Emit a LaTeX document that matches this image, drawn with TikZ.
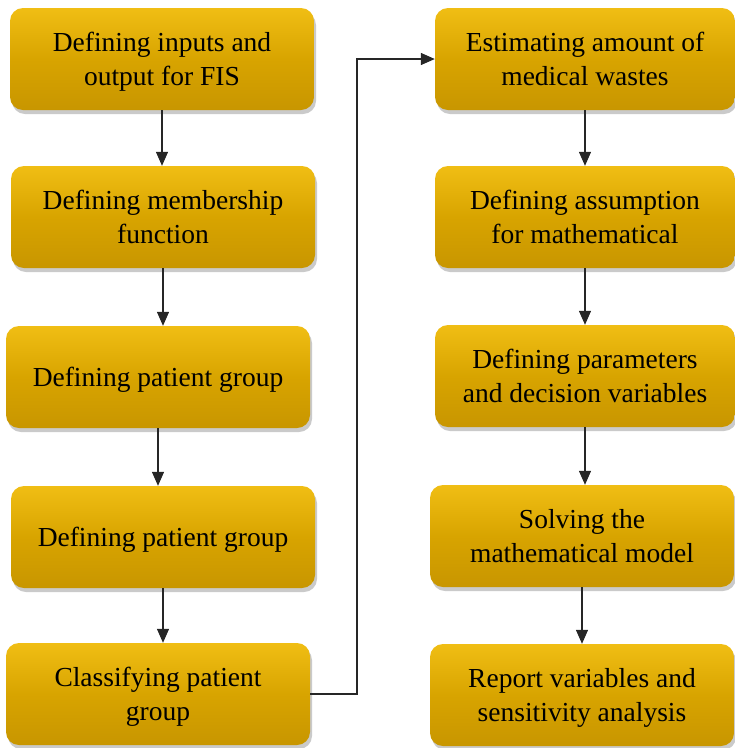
\documentclass[tikz,border=0pt]{standalone}
\usepackage{fontspec}
\setmainfont{Liberation Serif}
\usetikzlibrary{arrows.meta,
  calc,
  shadows,
  positioning
}

\begin{document}
\begin{tikzpicture}[x=1pt,y=-1pt,
    goldbox/.style={rounded corners=13pt,minimum width=304pt,minimum height=102pt,
      align=center,inner sep=2pt,text depth=-3pt,font=\fontsize{27.5}{34}\selectfont,
      top color={rgb,255:red,240;green,190;blue,20},
      bottom color={rgb,255:red,200;green,150;blue,0},
      middle color={rgb,255:red,216;green,164;blue,0},
      drop shadow={shadow xshift=2pt,shadow yshift=-4pt,opacity=0.35,fill=black!60}},
    flow/.style={-{Triangle[length=14pt,width=12pt]},line width=1.3pt,black!85}]
  \useasboundingbox (0,0) rectangle (735,748);

  % left column
  \node[goldbox] (l1) at (162,59) {Defining inputs and\\output for FIS};
  \node[goldbox] (l2) at (163,217) {Defining membership\\function};
  \node[goldbox] (l3) at (158,377) {Defining patient group};
  \node[goldbox] (l4) at (163,537) {Defining patient group};
  \node[goldbox] (l5) at (158,694) {Classifying patient\\group};

  % right column
  \node[goldbox,minimum width=300pt] (r1) at (585,59) {Estimating amount of\\medical wastes};
  \node[goldbox,minimum width=300pt] (r2) at (585,217) {Defining assumption\\for mathematical};
  \node[goldbox,minimum width=300pt] (r3) at (585,376) {Defining parameters\\and decision variables};
  \node[goldbox] (r4) at (582,536) {Solving the\\mathematical model};
  \node[goldbox] (r5) at (582,695) {Report variables and\\sensitivity analysis};

  % arrows
  \draw[flow] (l1.south) -- (l1.south |- l2.north);
  \draw[flow] (l2.south) -- (l2.south |- l3.north);
  \draw[flow] (l3.south) -- (l3.south |- l4.north);
  \draw[flow] (l4.south) -- (l4.south |- l5.north);
  \draw[flow] (r1.south) -- (r1.south |- r2.north);
  \draw[flow] (r2.south) -- (r2.south |- r3.north);
  \draw[flow] (r3.south) -- (r3.south |- r4.north);
  \draw[flow] (r4.south) -- (r4.south |- r5.north);

  % link between columns
  \coordinate (turn) at (357,59);
  \draw[flow] (l5.east) -| (turn) -- (r1.west);
\end{tikzpicture}
\end{document}
